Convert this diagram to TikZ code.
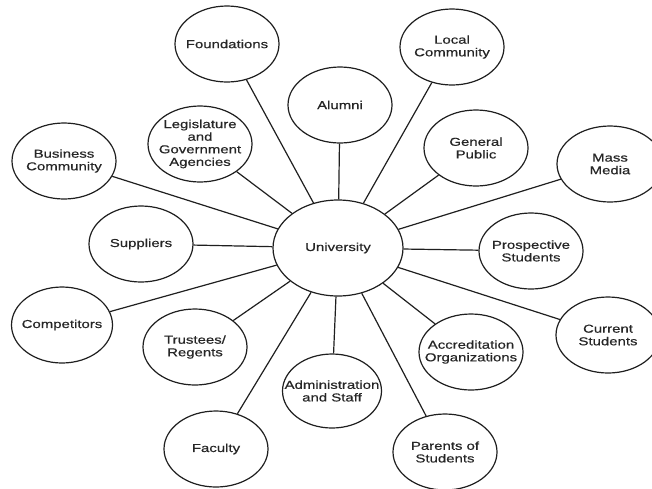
\documentclass[tikz,border=0pt]{standalone}
\usepackage{fontspec}
\setmainfont[FakeStretch=1.3,FakeBold=0.5]{Liberation Sans}
\usetikzlibrary{shapes.geometric}
\begin{document}
\begin{tikzpicture}[x=1pt,y=-1pt,
  oval/.style={ellipse,draw=black!88,line width=1.2pt,fill=white,
    minimum width=104pt,minimum height=76pt,inner sep=0pt},
  txt/.style={align=center,inner sep=0pt,text=black!85,
    font=\fontsize{11.5}{12.6}\selectfont},
  link/.style={draw=black!88,line width=1.2pt}]
  \useasboundingbox (0,0) rectangle (652,488);
  \fill[white] (0,0) rectangle (652,488);
  \clip (0,0) rectangle (652,488);

  % hub
  \node[oval,minimum width=130pt,minimum height=96pt,
        label={[txt]center:University}] (uni) at (338,248) {};

  % stakeholders
  \node[oval,label={[txt]center:Foundations}] (fnd) at (227,44) {};
  \node[oval,label={[txt]center:Local\\Community}] (loc) at (452,47) {};
  \node[oval,label={[txt]center:Alumni}] (alu) at (340,105) {};
  \node[oval,label={[txt]center:Legislature\\and\\Government\\Agencies}] (leg) at (200,144) {};
  \node[oval,label={[txt]center:General\\Public}] (gen) at (476,148) {};
  \node[oval,minimum width=106pt,label={[txt]center:Mass\\Media}] (mas) at (610,164) {};
  \node[oval,label={[txt]center:Business\\Community}] (bus) at (64,161) {};
  \node[oval,label={[txt]center:Suppliers}] (sup) at (141,244) {};
  \node[oval,label={[txt]center:Prospective\\Students}] (pro) at (531,251) {};
  \node[oval,minimum width=101pt,label={[txt]center:Competitors}] (com) at (62,325) {};
  \node[oval,label={[txt]center:Trustees/\\Regents}] (tru) at (195,347) {};
  \node[oval,label={[txt]center:Accreditation\\Organizations}] (acc) at (471,352) {};
  \node[oval,label={[txt]center:Current\\Students}] (cur) at (608,335) {};
  \node[oval,minimum width=99pt,minimum height=74pt,
        label={[txt]center:Administration\\and Staff}] (adm) at (332,391) {};
  \node[oval,label={[txt]center:Faculty}] (fac) at (216,449) {};
  \node[oval,label={[txt]center:Parents of\\Students}] (par) at (445,452) {};

  % spokes
  \foreach \n in {fnd,loc,alu,leg,gen,mas,bus,sup,pro,com,tru,acc,cur,adm,fac,par}
    \draw[link] (uni) -- (\n);
\end{tikzpicture}
\end{document}
